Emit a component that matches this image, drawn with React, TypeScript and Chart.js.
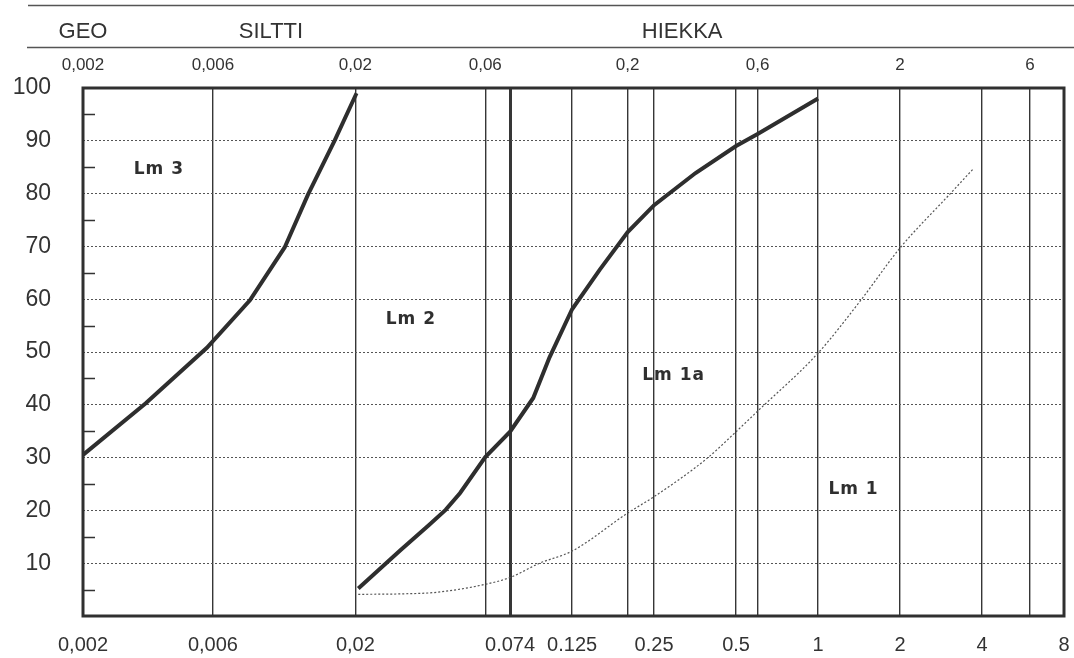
import React, { useEffect, useRef } from 'react';
import { Chart, registerables } from 'chart.js';

Chart.register(...registerables);

const FONT = '"Liberation Sans", Arial, Helvetica, sans-serif';
const LABEL_FONT = '"DejaVu Sans", "Liberation Sans", Arial, sans-serif';

// Lm 3 boundary curve (grain size mm, passing %)
const lm3Size = [0.002, 0.0034, 0.0057, 0.0082, 0.011, 0.0134, 0.0168, 0.0202];
const lm3Pass = [30.5, 40.3, 50.8, 59.8, 69.8, 79.8, 90.1, 99.0];

// Lm 2 / Lm 1a boundary curve
const lm2Size = [0.0205, 0.0292, 0.0372, 0.0429, 0.0485, 0.06, 0.074, 0.09, 0.1033, 0.125, 0.158, 0.2, 0.25, 0.355, 0.5, 0.6, 1.0];
const lm2Pass = [5.2, 12.4, 17.2, 20.1, 23.3, 30.1, 34.9, 41.3, 49.0, 58.1, 65.6, 72.7, 77.8, 83.9, 89.0, 91.3, 98.0];

// Lm 1a / Lm 1 boundary (dotted) curve
const lm1Size = [0.0205, 0.03, 0.04, 0.06, 0.074, 0.095, 0.125, 0.2, 0.25, 0.39, 0.5, 0.6, 1.0, 1.44, 2.0, 3.06, 3.7];
const lm1Pass = [4.1, 4.2, 4.5, 6.0, 7.3, 10.0, 12.3, 19.5, 22.6, 29.8, 34.9, 38.8, 49.8, 59.9, 69.7, 80.0, 84.6];

// axis ticks
const gridValues = [0.002, 0.006, 0.02, 0.06, 0.074, 0.125, 0.2, 0.25, 0.5, 0.6, 1, 2, 4, 6, 8];
const bottomTickValues = [0.002, 0.006, 0.02, 0.074, 0.125, 0.25, 0.5, 1, 2, 4, 8];
const bottomTickLabels = ['0,002', '0,006', '0,02', '0.074', '0.125', '0.25', '0.5', '1', '2', '4', '8'];
const topTickValues = [0.002, 0.006, 0.02, 0.06, 0.2, 0.6, 2, 6];
const topTickLabels = ['0,002', '0,006', '0,02', '0,06', '0,2', '0,6', '2', '6'];
const emphasisValue = 0.074;

// header zones
const zoneNames = ['GEO', 'SILTTI', 'HIEKKA'];
const zoneCenters = [0.002, 0.0098, 0.317];

// region labels
const regionLabels = ['Lm 3', 'Lm 2', 'Lm 1a', 'Lm 1'];
const regionX = [0.0038, 0.032, 0.295, 1.35];
const regionY = [84.6, 56.1, 45.5, 23.9];

const same = (a: number, b: number) => Math.abs(a - b) / b < 1e-6;
const lookup = (vals: number[], labels: string[], v: number) => {
  const i = vals.findIndex((t) => same(v, t));
  return i >= 0 ? labels[i] : '';
};
const pts = (xs: number[], ys: number[]) => xs.map((x, i) => ({ x, y: ys[i] }));
const CLEAR = 'rgba(0,0,0,0)';

const decorPlugin = {
  id: 'decor',
  afterDraw(chart: any) {
    const { ctx, chartArea: a, scales } = chart;
    const xs = scales.x;
    const ys = scales.y;
    ctx.save();
    // minor ticks (5, 15, ... 95) inside the left border
    ctx.strokeStyle = '#333';
    ctx.lineWidth = 1.5;
    ctx.beginPath();
    ys.ticks.forEach((t: any) => {
      if (t.value % 10 === 5) {
        const py = Math.round(ys.getPixelForValue(t.value)) + 0.5;
        ctx.moveTo(a.left, py);
        ctx.lineTo(a.left + 12, py);
      }
    });
    ctx.stroke();
    // region labels
    ctx.fillStyle = '#2f2f2f';
    ctx.textAlign = 'center';
    ctx.textBaseline = 'middle';
    ctx.font = `bold 17px ${LABEL_FONT}`;
    try {
      (ctx as any).letterSpacing = '1px';
    } catch (e) {}
    regionLabels.forEach((t, i) => {
      ctx.fillText(t, xs.getPixelForValue(regionX[i]), ys.getPixelForValue(regionY[i]));
    });
    try {
      (ctx as any).letterSpacing = '0px';
    } catch (e) {}
    // plot frame
    ctx.lineWidth = 3;
    ctx.strokeStyle = '#303030';
    ctx.strokeRect(a.left, a.top, a.right - a.left, a.bottom - a.top);
    // header band
    ctx.lineWidth = 1.5;
    ctx.strokeStyle = '#555';
    ctx.beginPath();
    ctx.moveTo(28, 5.5);
    ctx.lineTo(chart.width, 5.5);
    ctx.moveTo(27, 47.5);
    ctx.lineTo(chart.width, 47.5);
    ctx.stroke();
    ctx.font = `22px ${FONT}`;
    ctx.fillStyle = '#333';
    zoneNames.forEach((t, i) => {
      ctx.fillText(t, xs.getPixelForValue(zoneCenters[i]), 32);
    });
    ctx.restore();
  },
};

export default function App() {
  const ref = useRef<HTMLCanvasElement>(null);
  useEffect(() => {
    document.body.style.margin = '0';
    Chart.defaults.font.family = FONT;
    const chart = new Chart(ref.current as HTMLCanvasElement, {
      type: 'scatter',
      data: {
        datasets: [
          {
            label: 'Lm 3',
            data: pts(lm3Size, lm3Pass),
            showLine: true,
            borderColor: '#2e2e2e',
            borderWidth: 4,
            pointRadius: 0,
            tension: 0,
          },
          {
            label: 'Lm 2',
            data: pts(lm2Size, lm2Pass),
            showLine: true,
            borderColor: '#2e2e2e',
            borderWidth: 4,
            pointRadius: 0,
            tension: 0,
          },
          {
            label: 'Lm 1',
            data: pts(lm1Size, lm1Pass),
            showLine: true,
            borderColor: '#555',
            borderWidth: 1.2,
            borderDash: [2, 2],
            pointRadius: 0,
            cubicInterpolationMode: 'monotone',
          },
        ],
      },
      options: {
        responsive: false,
        animation: false,
        events: [],
        layout: { padding: { left: 0, right: 10, top: 0, bottom: 0 } },
        plugins: { legend: { display: false }, tooltip: { enabled: false }, title: { display: false } },
        scales: {
          x: {
            type: 'logarithmic',
            position: 'bottom',
            min: 0.002,
            max: 8,
            afterBuildTicks: (s: any) => {
              s.ticks = gridValues.map((v) => ({ value: v }));
            },
            afterFit: (s: any) => {
              s.height = 42;
            },
            border: { display: false },
            grid: {
              drawTicks: true,
              tickLength: 17,
              tickColor: CLEAR,
              color: (c: any) => {
                const v = c.tick ? c.tick.value : NaN;
                return same(v, 0.002) || same(v, 8) ? CLEAR : '#363636';
              },
              lineWidth: (c: any) => (c.tick && same(c.tick.value, emphasisValue) ? 3 : 1.4),
            },
            ticks: {
              autoSkip: false,
              maxRotation: 0,
              minRotation: 0,
              padding: 0,
              color: '#333',
              font: { size: 20 },
              callback: (v: any) => lookup(bottomTickValues, bottomTickLabels, Number(v)),
            },
          },
          xTop: {
            type: 'logarithmic',
            position: 'top',
            min: 0.002,
            max: 8,
            afterBuildTicks: (s: any) => {
              s.ticks = topTickValues.map((v) => ({ value: v }));
            },
            afterFit: (s: any) => {
              s.height = 88;
            },
            border: { display: false },
            grid: { display: true, drawOnChartArea: false, drawTicks: true, tickLength: 12, tickColor: CLEAR, color: CLEAR },
            ticks: {
              autoSkip: false,
              maxRotation: 0,
              minRotation: 0,
              padding: 0,
              color: '#333',
              font: { size: 17 },
              callback: (v: any) => lookup(topTickValues, topTickLabels, Number(v)),
            },
          },
          y: {
            type: 'linear',
            position: 'left',
            min: 0,
            max: 100,
            afterFit: (s: any) => {
              s.width = 83;
            },
            border: { display: false, dash: [2, 2] },
            grid: {
              color: (c: any) => {
                const v = c.tick ? c.tick.value : NaN;
                return v % 10 === 0 && v > 0 && v < 100 ? '#555' : CLEAR;
              },
              lineWidth: 1,
              drawTicks: true,
              tickLength: 32,
              tickColor: CLEAR,
            },
            ticks: {
              stepSize: 5,
              autoSkip: false,
              padding: 0,
              color: '#333',
              font: { size: 23 },
              callback: (v: any) => (Number(v) % 10 === 0 && Number(v) > 0 ? String(v) : ''),
            },
          },
        },
      } as any,
      plugins: [decorPlugin],
    });
    return () => chart.destroy();
  }, []);
  return <canvas ref={ref} width={1074} height={658} style={{ display: 'block' }} />;
}
